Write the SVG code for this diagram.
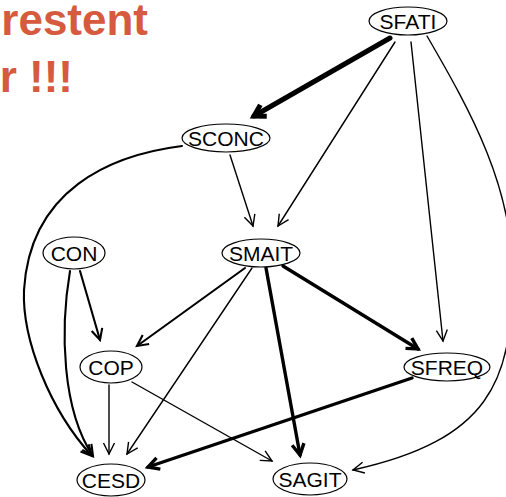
<svg xmlns="http://www.w3.org/2000/svg" width="506" height="497" viewBox="0 0 506 497">
<style>
.title{font-family:"Liberation Sans",Arial,sans-serif;font-weight:bold;font-size:44px;fill:#d65a3e}
.node ellipse{fill:#fff;stroke:#000;stroke-width:1.2}
.node text{font-family:"Liberation Sans",Arial,sans-serif;font-size:21px;fill:#000;text-anchor:middle}
.e{fill:none;stroke:#000;stroke-linecap:round}
.w1{stroke-width:1.4;marker-end:url(#a1)}
.w2{stroke-width:2.1;marker-end:url(#a2)}
.w3{stroke-width:3.4;marker-end:url(#a3)}
.w5{stroke-width:5;marker-end:url(#a5)}
</style>
<defs>
<marker id="a1" markerUnits="userSpaceOnUse" markerWidth="20" markerHeight="20" viewBox="-15 -10 20 20" refX="0" refY="0" orient="auto" overflow="visible"><path d="M-11,-5.5 L0,0 L-11,5.5" fill="none" stroke="#000" stroke-width="1.4" stroke-linejoin="miter"/></marker>
<marker id="a2" markerUnits="userSpaceOnUse" markerWidth="20" markerHeight="20" viewBox="-15 -10 20 20" refX="0" refY="0" orient="auto" overflow="visible"><path d="M-11,-5.5 L0,0 L-11,5.5" fill="none" stroke="#000" stroke-width="2.1" stroke-linejoin="miter"/></marker>
<marker id="a3" markerUnits="userSpaceOnUse" markerWidth="20" markerHeight="20" viewBox="-15 -10 20 20" refX="0" refY="0" orient="auto" overflow="visible"><path d="M-11,-6 L0,0 L-11,6" fill="none" stroke="#000" stroke-width="3.4" stroke-linejoin="miter"/></marker>
<marker id="a5" markerUnits="userSpaceOnUse" markerWidth="24" markerHeight="24" viewBox="-15 -12 24 24" refX="0" refY="0" orient="auto" overflow="visible"><path d="M-11,-6.5 L0,0 L-11,6.5" fill="none" stroke="#000" stroke-width="5" stroke-linejoin="miter"/></marker>
</defs>
<text class="title" x="148" y="35" text-anchor="end">restent</text>
<text class="title" x="73" y="92" text-anchor="end">r !!!</text>
<g id="connectors">
<path class="e w5" d="M390,38 L254,116"/>
<path class="e w1" d="M395,42 L278,226"/>
<path class="e w1" d="M411,42 L443,341"/>
<path class="e w1" d="M427,36 C470,110 515,190 512,280 C512,380 490,440 353,470"/>
<path class="e w1" d="M230,155 L253,226"/>
<path class="e w2" d="M182,146 C110,155 30,190 24,290 C22,340 50,410 92,456"/>
<path class="e w2" d="M80,271 L100,340"/>
<path class="e w2" d="M70,271 C60,330 62,410 93,456"/>
<path class="e w2" d="M245,268 L137,346"/>
<path class="e w1" d="M252,268 L127,454"/>
<path class="e w3" d="M283,266 L418,349"/>
<path class="e w3" d="M266,268 L300,455"/>
<path class="e w1" d="M109,385 L109,454"/>
<path class="e w1" d="M132,382 L272,461"/>
<path class="e w3" d="M412,378 L148,467"/>
</g>
<g id="SFATI" class="node"><ellipse cx="408" cy="21" rx="39" ry="14"/><text x="408" y="28.5">SFATI</text></g>
<g id="SCONC" class="node"><ellipse cx="226" cy="138" rx="44" ry="14"/><text x="226" y="145.5">SCONC</text></g>
<g id="CON" class="node"><ellipse cx="74" cy="253" rx="31" ry="16"/><text x="74" y="260.5">CON</text></g>
<g id="SMAIT" class="node"><ellipse cx="261" cy="253" rx="39" ry="14"/><text x="261" y="260.5">SMAIT</text></g>
<g id="COP" class="node"><ellipse cx="111" cy="367" rx="31" ry="16"/><text x="111" y="374.5">COP</text></g>
<g id="SFREQ" class="node"><ellipse cx="447" cy="367" rx="43" ry="14"/><text x="447" y="374.5">SFREQ</text></g>
<g id="CESD" class="node"><ellipse cx="111" cy="480" rx="34" ry="16"/><text x="111" y="487.5">CESD</text></g>
<g id="SAGIT" class="node"><ellipse cx="310" cy="479" rx="37" ry="16"/><text x="310" y="486.5">SAGIT</text></g>
</svg>
